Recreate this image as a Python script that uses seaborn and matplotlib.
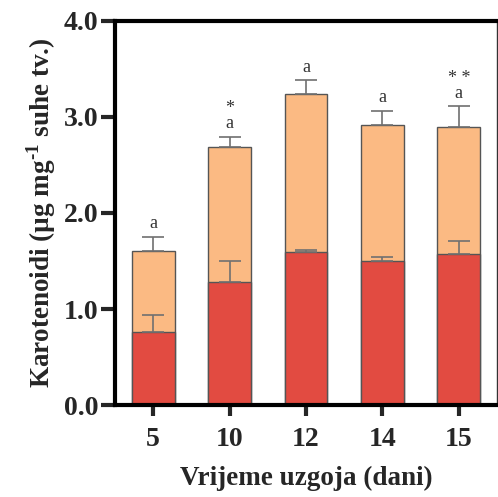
import numpy as np
import pandas as pd
import matplotlib
matplotlib.use("Agg")
import matplotlib.pyplot as plt
import seaborn as sns

# Data -------------------------------------------------------------------------
days = ["5", "10", "12", "14", "15"]
total = [1.60, 2.69, 3.24, 2.92, 2.89]
total_err = [0.15, 0.10, 0.14, 0.14, 0.22]
red = [0.76, 1.28, 1.59, 1.50, 1.57]
red_err = [0.18, 0.22, 0.02, 0.04, 0.14]
letters = ["a", "a", "a", "a", "a"]
stars = ["", "*", "", "", "* *"]

df = pd.DataFrame({"dani": days, "total": total, "red": red})

sns.set_style("white")
plt.rcParams["font.family"] = ["Liberation Serif", "DejaVu Serif"]
plt.rcParams["mathtext.fontset"] = "custom"
plt.rcParams["mathtext.rm"] = "Liberation Serif:bold"
plt.rcParams["mathtext.bf"] = "Liberation Serif:bold"

fig = plt.figure(figsize=(4.98, 4.97), dpi=100)
ax = fig.add_axes([0.231, 0.185, 0.767, 0.773])

sns.barplot(data=df, x="dani", y="total", color="#FBBA83", saturation=1,
            width=0.56, edgecolor="#555555", linewidth=1, ax=ax)
sns.barplot(data=df, x="dani", y="red", color="#E24B41", saturation=1,
            width=0.56, edgecolor="#555555", linewidth=1, ax=ax)

xpos = np.arange(len(days))
for vals, errs in [(total, total_err), (red, red_err)]:
    ax.errorbar(xpos, vals, yerr=[np.zeros(len(errs)), errs], fmt="none",
                ecolor="#707070", elinewidth=1.2, capsize=8, capthick=1.2, zorder=1)

# significance letters (and stars stacked above, as one text)
for i in xpos:
    top = total[i] + total_err[i]
    label = stars[i] + "\n" + letters[i] if stars[i] else letters[i]
    ax.text(i, top + 0.05, label, ha="center", va="bottom", fontsize=13,
            color="#333333", linespacing=0.85, multialignment="center")

ax.set_xlim(-0.5, 4.5)
ax.set_ylim(0, 4.0)
ax.set_yticks([0, 1, 2, 3, 4])
ax.set_yticklabels(["0.0", "1.0", "2.0", "3.0", "4.0"])
ax.set_xlabel("Vrijeme uzgoja (dani)", fontsize=19.5, fontweight="bold", labelpad=10)
ax.set_ylabel(r"Karotenoidi (µg mg$^{\text{-1}}$ suhe tv.)", fontsize=19.5,
              fontweight="bold", labelpad=4)

for lab in ax.get_xticklabels() + ax.get_yticklabels():
    lab.set_fontweight("bold")
    lab.set_fontsize(20)

for side in ["left", "bottom", "top"]:
    ax.spines[side].set_linewidth(3)
    ax.spines[side].set_color("black")
ax.spines["right"].set_linewidth(1)
ax.spines["right"].set_color("#333333")

ax.tick_params(axis="y", direction="out", length=10, width=3, left=True, pad=2)
ax.tick_params(axis="x", direction="out", length=8, width=3, bottom=True, pad=8)

fig.savefig("out.png", dpi=100)
